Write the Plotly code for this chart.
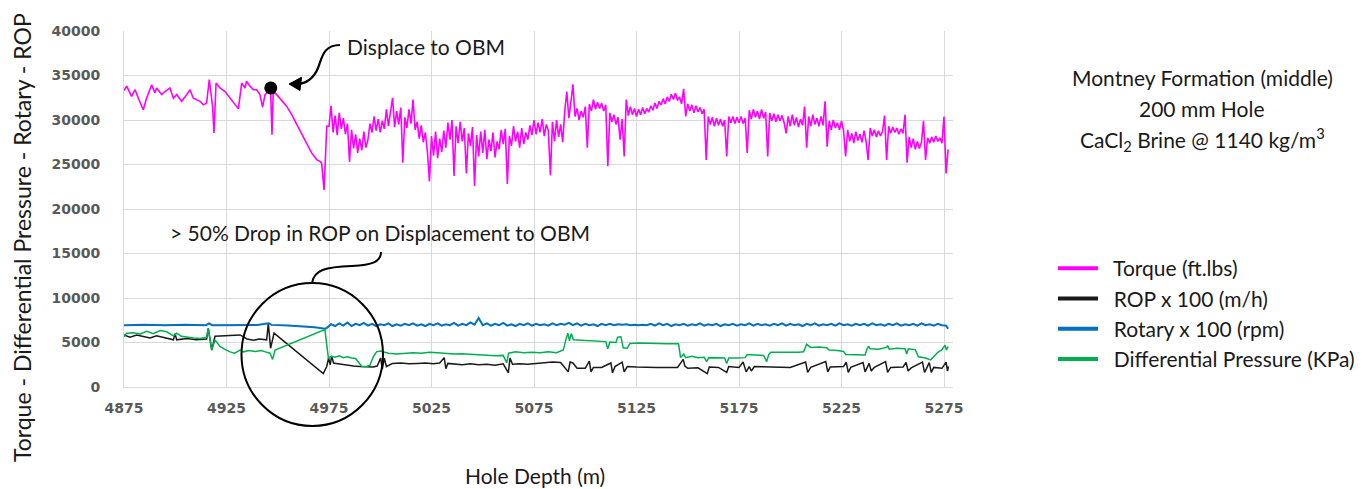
import plotly.graph_objects as go

# ---------------- data ----------------
torque_depth = [
    4875.0, 4876.3, 4878.7, 4880.4, 4882.0, 4884.4, 4886.0, 4888.5, 4890.1, 4890.9,
    4893.4, 4895.0, 4897.4, 4899.1, 4900.7, 4903.1, 4905.6, 4907.2, 4908.8, 4910.4,
    4912.1, 4913.7, 4915.3, 4916.6, 4918.2, 4918.9, 4919.9, 4921.8, 4924.3, 4930.8,
    4932.4, 4934.0, 4934.8, 4936.4, 4938.1, 4939.7, 4941.3, 4942.6, 4943.8, 4945.4,
    4946.5, 4947.2, 4947.8, 4949.5, 4951.1, 4954.3, 4956.8, 4959.2, 4961.7, 4964.1,
    4966.5, 4969.0, 4970.6, 4971.4, 4972.6, 4973.9,
    4975, 4976, 4977, 4978, 4979, 4980, 4981, 4982, 4983, 4984,
    4985, 4986, 4987, 4988, 4989, 4990, 4991, 4992, 4993, 4994,
    4995, 4996, 4997, 4998, 4999, 5000, 5001, 5002, 5003, 5004,
    5005, 5006, 5007, 5008, 5009, 5010, 5011, 5012, 5013, 5014,
    5015, 5016, 5017, 5018, 5019, 5020, 5021, 5022, 5023, 5024,
    5025, 5026, 5027, 5028, 5029, 5030, 5031, 5032, 5033, 5034,
    5035, 5036, 5037, 5038, 5039, 5040, 5041, 5042, 5043, 5044,
    5045, 5046, 5047, 5048, 5049, 5050, 5051, 5052, 5053, 5054,
    5055, 5056, 5057, 5058, 5059, 5060, 5061, 5062, 5063, 5064,
    5065, 5066, 5067, 5068, 5069, 5070, 5071, 5072, 5073, 5074,
    5075, 5076, 5077, 5078, 5079, 5080, 5081, 5082, 5083, 5084,
    5085, 5086, 5087, 5088, 5089, 5090, 5091, 5092, 5093, 5094,
    5095, 5096, 5097, 5098, 5099, 5100, 5101, 5102, 5103, 5104,
    5105, 5106, 5107, 5108, 5109, 5110, 5111, 5112, 5113, 5114,
    5115, 5116, 5117, 5118, 5119, 5120, 5121, 5122, 5123, 5124,
    5125, 5126, 5127, 5128, 5129, 5130, 5131, 5132, 5133, 5134,
    5135, 5136, 5137, 5138, 5139, 5140, 5141, 5142, 5143, 5144,
    5145, 5146, 5147, 5148, 5149, 5150, 5151, 5152, 5153, 5154,
    5155, 5156, 5157, 5158, 5159, 5160, 5161, 5162, 5163, 5164,
    5165, 5166, 5167, 5168, 5169, 5170, 5171, 5172, 5173, 5174,
    5175, 5176, 5177, 5178, 5179, 5180, 5181, 5182, 5183, 5184,
    5185, 5186, 5187, 5188, 5189, 5190, 5191, 5192, 5193, 5194,
    5195, 5196, 5197, 5198, 5199, 5200, 5201, 5202, 5203, 5204,
    5205, 5206, 5207, 5208, 5209, 5210, 5211, 5212, 5213, 5214,
    5215, 5216, 5217, 5218, 5219, 5220, 5221, 5222, 5223, 5224,
    5225, 5226, 5227, 5228, 5229, 5230, 5231, 5232, 5233, 5234,
    5235, 5236, 5237, 5238, 5239, 5240, 5241, 5242, 5243, 5244,
    5245, 5246, 5247, 5248, 5249, 5250, 5251, 5252, 5253, 5254,
    5255, 5256, 5257, 5258, 5259, 5260, 5261, 5262, 5263, 5264,
    5265, 5266, 5267, 5268, 5269, 5270, 5271, 5272, 5273, 5274,
    5275, 5276, 5277,
]
torque = [
    33300, 33800, 32650, 33400, 32450, 31150, 32450, 33950, 33050, 33600,
    32850, 33200, 33600, 32450, 32850, 32100, 32850, 33400, 32450, 32300,
    32100, 31700, 31900, 34550, 31550, 28550, 34150, 33600, 33200, 31250,
    34150, 33600, 34350, 33800, 33400, 33400, 32850, 31450, 32850, 33250,
    33400, 28350, 33250, 32850, 32450, 31550, 30600, 29500, 28350, 27400,
    26300, 25550, 25350, 25150, 22150, 29300,
    29300, 31600, 28600, 30500, 28300, 30800, 29000, 30200, 28400, 29600,
    25300, 28900, 26800, 28400, 26300, 27900, 26600, 28700, 26900, 27800,
    29600, 28600, 30400, 28800, 30100, 28600, 29900, 29000, 31200, 29300,
    30800, 32500, 29200, 31000, 29500, 31400, 25200, 30300, 29100, 31200,
    29600, 32300, 28900, 29800, 27900, 29400, 27500, 28600, 26400, 23100,
    28200, 26000, 28700, 25700, 27900, 26400, 28800, 26900, 29700, 27800,
    30000, 23700, 29300, 27400, 29800, 27600, 29100, 24000, 28500, 27100,
    29200, 22600, 28300, 25900, 28700, 26300, 28900, 25600, 27800, 26500,
    28600, 25800, 27600, 26700, 28900, 27300, 29000, 22800, 28200, 27100,
    29300, 27600, 28700, 26900, 29100, 27300, 28600, 27800, 29400, 28300,
    30000, 28400, 29700, 28600, 30100, 28200, 29500, 28800, 23800, 29800,
    27600, 30000, 28100, 29500, 27500, 31000, 33200, 30200, 32000, 34000,
    30400, 31300, 30000, 31000, 30300, 31500, 26900, 31800, 31000, 32300,
    31200, 32000, 31300, 31900, 31000, 31700, 24800, 30800, 29800, 30600,
    29500, 30300, 27800, 30100, 25900, 32300, 30500, 31500, 30600, 31300,
    30400, 31200, 30600, 31400, 30700, 31300, 30900, 31600, 31100, 31900,
    31300, 32100, 31700, 32400, 31800, 32600, 32100, 32900, 32300, 33000,
    32200, 32600, 31800, 33500, 30400, 31800, 31000, 31700, 30800, 31600,
    30900, 31400, 30700, 31200, 25500, 30400, 29500, 30300, 29300, 30200,
    29400, 30100, 29300, 30000, 25900, 30400, 29700, 30400, 29600, 30300,
    29700, 30400, 29600, 30200, 26300, 31100, 30100, 31200, 30300, 31000,
    30100, 31200, 30200, 30900, 25900, 30800, 29900, 30700, 29800, 30600,
    29900, 30500, 29700, 28500, 30400, 29300, 30600, 29400, 30300, 29200,
    30100, 29400, 31500, 26900, 30400, 29300, 30600, 29500, 30200, 29300,
    30400, 29400, 32100, 27000, 29900, 28900, 30000, 29100, 29700, 28900,
    29900, 28800, 25900, 28900, 27600, 28500, 27400, 28700, 27700, 28400,
    27500, 28800, 27600, 25500, 29100, 28200, 28900, 28100, 28800, 28200,
    28700, 30500, 25500, 29300, 28500, 29200, 28600, 29100, 28400, 29000,
    28500, 30600, 25200, 28100, 26900, 27900, 26700, 27600, 26800, 27500,
    29900, 25500, 28000, 27400, 28100, 27500, 28200, 27600, 28000, 27400,
    30400, 24000, 26700,
]

rop_depth = [
    4875.0, 4877.9, 4881.2, 4884.4, 4887.7, 4890.9, 4894.2, 4899.1, 4899.9, 4900.7,
    4905.6, 4910.4, 4915.3, 4916.1, 4917.8, 4919.4, 4931.6, 4935.0, 4938.1, 4941.0,
    4944.6, 4945.4, 4946.5, 4948.2, 4972.2, 4973.9, 4974.8, 4975.6, 4976.3, 4977.2,
    4978.5, 4981.0, 4984.0, 4987.0, 4990.0, 4993.0, 4996.5, 4998.5, 5000.2, 5001.0,
    5002.0, 5003.0, 5006.0, 5010.0, 5014.0, 5018.0, 5022.0, 5026.0, 5029.0, 5031.2,
    5032.0, 5033.0, 5036.0, 5040.0, 5044.0, 5048.0, 5052.0, 5056.0, 5060.0, 5062.5,
    5063.3, 5064.5, 5068.0, 5072.0, 5076.0, 5080.0, 5084.0, 5088.0, 5091.7, 5092.6,
    5094.0, 5096.0, 5100.0, 5102.0, 5102.8, 5104.0, 5108.0, 5112.5, 5113.3, 5114.5,
    5118.0, 5119.0, 5120.5, 5125.0, 5130.0, 5135.0, 5140.0, 5145.0, 5147.8, 5148.6,
    5150.0, 5155.0, 5159.5, 5160.5, 5165.0, 5169.0, 5170.0, 5175.0, 5177.0, 5178.5,
    5180.0, 5181.0, 5182.5, 5190.0, 5200.0, 5207.5, 5208.5, 5210.0, 5217.3, 5218.3,
    5219.5, 5226.0, 5227.3, 5228.3, 5229.5, 5235.5, 5236.5, 5238.5, 5239.5, 5241.0,
    5246.5, 5247.5, 5249.0, 5255.0, 5256.5, 5257.5, 5259.0, 5264.5, 5265.5, 5266.5,
    5267.8, 5268.8, 5270.0, 5274.0, 5276.0, 5276.7, 5277.2,
]
rop = [
    5850, 5600, 5850, 5700, 5500, 5750, 5550, 5300, 6000, 5300,
    5450, 5300, 5400, 6600, 4150, 5700, 5850, 5400, 5250, 5400,
    5300, 7150, 4350, 6050, 1500, 2300, 3250, 2500, 3500, 2700,
    2650, 2550, 2450, 2350, 2300, 2250, 2250, 2350, 3250, 2000,
    3250, 2300, 2650, 2700, 2600, 2650, 2700, 2600, 2700, 3300,
    2050, 2650, 2600, 2500, 2600, 2500, 2550, 2450, 2600, 1600,
    3250, 2550, 2600, 2550, 2650, 2750, 2800, 2750, 1700, 2800,
    2700, 2100, 2100, 2900, 1700, 2200, 2200, 2700, 1600, 2300,
    2800, 1700, 2300, 2250, 2200, 2200, 2200, 2200, 3100, 2350,
    2100, 2150, 1500, 2250, 2200, 1650, 2300, 2200, 2800, 1700,
    2300, 1800, 2300, 2250, 2200, 2800, 1650, 2200, 2850, 1700,
    2250, 2300, 2800, 1650, 2200, 2750, 1700, 2650, 1800, 2200,
    2850, 1650, 2200, 2250, 2750, 1800, 2150, 2800, 1650, 2100,
    2750, 1650, 2200, 2100, 2800, 1800, 2300,
]

rotary_depth = [
    4875, 4885, 4895, 4905, 4915, 4916.5, 4918, 4930, 4940, 4945.5,
    4947, 4955, 4962, 4968, 4973,
    4974, 4976, 4978, 4980, 4982, 4984, 4986, 4988, 4990, 4992,
    4994, 4996, 4998, 5000, 5002, 5004, 5006, 5008, 5010, 5012,
    5014, 5016, 5018, 5020, 5022, 5024, 5026, 5028, 5030, 5032,
    5034, 5036, 5038, 5040, 5042, 5044, 5046, 5048, 5050, 5052,
    5054, 5056, 5058, 5060, 5062, 5064, 5066, 5068, 5070, 5072,
    5074, 5076, 5078, 5080, 5082, 5084, 5086, 5088, 5090, 5092,
    5094, 5096, 5098, 5100, 5102, 5104, 5106, 5108, 5110, 5112,
    5114, 5116, 5118, 5120, 5122, 5124, 5126, 5128, 5130, 5132,
    5134, 5136, 5138, 5140, 5142, 5144, 5146, 5148, 5150, 5152,
    5154, 5156, 5158, 5160, 5162, 5164, 5166, 5168, 5170, 5172,
    5174, 5176, 5178, 5180, 5182, 5184, 5186, 5188, 5190, 5192,
    5194, 5196, 5198, 5200, 5202, 5204, 5206, 5208, 5210, 5212,
    5214, 5216, 5218, 5220, 5222, 5224, 5226, 5228, 5230, 5232,
    5234, 5236, 5238, 5240, 5242, 5244, 5246, 5248, 5250, 5252,
    5254, 5256, 5258, 5260, 5262, 5264, 5266, 5268, 5270, 5272,
    5274, 5276, 5277,
]
rotary = [
    6950, 7000, 6950, 7000, 6950, 7150, 6950, 7000, 6980, 7150,
    6980, 6900, 6800, 6700, 6550,
    6650, 7050, 6850, 7150, 6900, 7250, 6850, 7100, 6950, 7200,
    6900, 7100, 6850, 7050, 6950, 7150, 6850, 7050, 6900, 7100,
    6950, 7150, 6900, 7050, 6850, 7100, 6950, 7150, 6900, 7050,
    6950, 7200, 6900, 7100, 6950, 7250, 7000, 7750, 6950, 7150,
    6900, 7100, 6950, 7200, 6900, 7050, 6850, 7100, 6950, 7150,
    6900, 7100, 6950, 7050, 6900, 7150, 6950, 7100, 7000, 7200,
    6950, 7150, 6900, 7100, 6950, 7050, 6850, 7100, 6950, 7100,
    6950, 7050, 7000, 7050, 6950, 7000, 6950, 7000, 6950, 7100,
    6900, 7150, 6950, 7100, 6850, 7050, 6950, 7100, 6900, 7050,
    6950, 7150, 6900, 7050, 6950, 7100, 6850, 7050, 6950, 7100,
    6900, 7050, 6950, 7150, 6900, 7100, 6950, 7050, 6900, 7100,
    6950, 7150, 6900, 7100, 6950, 7050, 6850, 7100, 6950, 7150,
    6900, 7050, 6950, 7100, 6900, 7150, 6950, 7050, 6900, 7100,
    6950, 7100, 6900, 7150, 6950, 7050, 6900, 7100, 6950, 7150,
    6900, 7050, 6950, 7100, 6900, 7150, 6950, 7050, 6900, 7100,
    6950, 6900, 6550,
]

dp_depth = [
    4875.0, 4876.3, 4879.6, 4883.0, 4886.0, 4889.3, 4892.6, 4895.8, 4899.1, 4900.7,
    4903.0, 4905.6, 4909.0, 4912.1, 4915.3, 4916.1, 4917.8, 4919.4, 4921.8, 4924.0,
    4926.7, 4929.0, 4931.6, 4933.2, 4936.0, 4939.0, 4942.0, 4944.0, 4946.2, 4947.5,
    4948.7, 4973.0, 4974.7, 4976.0, 4978.0, 4980.0, 4982.0, 4984.0, 4986.0, 4988.0,
    4989.3, 4991.0, 4993.4, 4995.0, 4996.6, 4998.2, 5000.0, 5004.0, 5008.0, 5012.0,
    5016.0, 5020.0, 5024.0, 5028.0, 5032.0, 5036.0, 5040.0, 5044.0, 5048.0, 5052.0,
    5056.0, 5060.0, 5061.7, 5062.6, 5066.0, 5070.0, 5074.0, 5078.0, 5082.0, 5086.0,
    5089.3, 5090.5, 5091.5, 5092.3, 5093.2, 5094.2, 5098.0, 5102.0, 5106.0, 5110.0,
    5111.0, 5112.0, 5115.0, 5115.8, 5117.4, 5118.5, 5120.5, 5121.8, 5126.0, 5130.0,
    5135.0, 5140.0, 5145.5, 5146.5, 5148.0, 5149.0, 5152.0, 5155.0, 5158.0, 5159.2,
    5160.3, 5164.0, 5168.0, 5169.0, 5170.0, 5174.0, 5178.0, 5179.0, 5183.0, 5187.0,
    5188.5, 5189.5, 5190.5, 5195.0, 5200.0, 5204.0, 5206.5, 5207.5, 5208.0, 5210.0,
    5214.0, 5217.8, 5219.0, 5223.0, 5226.0, 5227.0, 5232.0, 5236.5, 5237.5, 5238.2,
    5239.0, 5243.0, 5247.0, 5247.5, 5248.3, 5252.0, 5256.0, 5256.8, 5257.6, 5261.0,
    5262.5, 5266.0, 5268.5, 5270.0, 5272.0, 5274.0, 5275.5, 5276.2, 5277.0,
]
dp = [
    5650, 6050, 6100, 5950, 6250, 6000, 6350, 6200, 5750, 6050,
    5700, 5600, 5500, 5450, 5600, 6600, 4150, 5300, 4550, 4250,
    3950, 3800, 4150, 3950, 4100, 4000, 4100, 3950, 3800, 3100,
    4150, 6450, 3250, 3450, 3350, 3500, 3300, 3400, 3250, 3200,
    2850, 2300, 2300, 2450, 3400, 3950, 4050, 3800, 3700, 3750,
    3850, 3800, 3900, 3850, 3800, 3700, 3750, 3700, 3600, 3550,
    3500, 3550, 2700, 3800, 3950, 3850, 3900, 3850, 3950, 3850,
    4150, 5300, 6050, 5200, 6000, 5300, 5250, 5200, 5150, 5100,
    4300, 5050, 5000, 5600, 5650, 4400, 4350, 4900, 4950, 4900,
    4900, 4850, 4850, 3300, 3700, 3300, 3450, 3300, 3350, 2850,
    3300, 3250, 3250, 2650, 3250, 3250, 3300, 3650, 3600, 3550,
    2850, 3650, 3900, 3900, 3850, 3900, 3950, 4550, 4800, 4450,
    4500, 4400, 4150, 4100, 4000, 3650, 3600, 3600, 4300, 4600,
    4300, 4250, 4450, 4650, 4250, 4350, 4300, 3700, 4300, 4200,
    3400, 3250, 3050, 3400, 3900, 4200, 4700, 4150, 4550,
]

marker_depth = [4946.6]   # "Displace to OBM" point
marker_value = [33600]

series_names = ["Torque (ft.lbs)", "ROP x 100 (m/h)", "Rotary x 100 (rpm)",
                "Differential Pressure (KPa)"]
x_ticks = [4875, 4925, 4975, 5025, 5075, 5125, 5175, 5225, 5275]
y_ticks = [0, 5000, 10000, 15000, 20000, 25000, 30000, 35000, 40000]

# ---------------- styling ----------------
W, H = 1369, 489
ML, MR, MT, MB = 124, 416, 31, 102
PW, PH = W - ML - MR, H - MT - MB
COLORS = ["#FF00FF", "#1A1A1A", "#0070C0", "#00B050"]
WIDTHS = [1.6, 1.5, 2.0, 1.5]
TXT = "Lato"
TXT_COLOR = "#1A1A1A"


def px(xp):
    return (xp - ML) / PW


def py(yp):
    return (H - MB - yp) / PH


def path(cmds):
    out = []
    for c in cmds:
        if isinstance(c, str):
            out.append(c)
        else:
            out.append(f"{px(c[0]):.5f},{py(c[1]):.5f}")
    return " ".join(out)


fig = go.Figure()
data = [(torque_depth, torque), (rop_depth, rop), (rotary_depth, rotary), (dp_depth, dp)]
for (xs, ys), c, w, n in zip(data, COLORS, WIDTHS, series_names):
    fig.add_trace(go.Scatter(x=xs, y=ys, mode="lines", line=dict(color=c, width=w),
                             name=n, showlegend=False, hoverinfo="skip"))

# legend entries (thicker swatches as in the reference)
for i, (c, n) in enumerate(zip(COLORS, series_names)):
    fig.add_trace(go.Scatter(x=[None], y=[None], mode="lines",
                             line=dict(color=c, width=4),
                             name="\u00a0\u00a0" + n, legendgroup=f"g{i}",
                             showlegend=True))

fig.add_trace(go.Scatter(x=marker_depth, y=marker_value, mode="markers",
                         marker=dict(color="black", size=13), showlegend=False,
                         hoverinfo="skip"))

x_range = [4875, 4875 + PW / 2.05]

fig.update_layout(
    width=W, height=H,
    margin=dict(l=ML, r=MR, t=MT, b=MB, pad=0),
    paper_bgcolor="white", plot_bgcolor="white",
    font=dict(family=TXT, color=TXT_COLOR),
    showlegend=True,
    legend=dict(xref="container", yref="container",
                x=1053 / W, y=1 - 248 / H, xanchor="left", yanchor="top",
                font=dict(family=TXT, size=21, color=TXT_COLOR),
                tracegroupgap=0, bgcolor="rgba(0,0,0,0)", itemwidth=40),
    xaxis=dict(range=x_range, tickvals=x_ticks, ticktext=[str(t) for t in x_ticks],
               showgrid=True, gridcolor="#D9D9D9", gridwidth=1,
               showline=True, linecolor="#D9D9D9", linewidth=1, zeroline=False,
               ticks="", ticklabelstandoff=8,
               tickfont=dict(family="DejaVu Sans", size=14, color="#595959", weight="bold")),
    yaxis=dict(range=[0, 40000], tickvals=y_ticks, ticktext=[str(t) for t in y_ticks],
               showgrid=True, gridcolor="#D9D9D9", gridwidth=1,
               showline=True, linecolor="#D9D9D9", linewidth=1, zeroline=False,
               ticks="", ticklabelstandoff=20,
               tickfont=dict(family="DejaVu Sans", size=14, color="#595959", weight="bold")),
)

ann_font = dict(family=TXT, size=21, color=TXT_COLOR)


def label(text, xp, yp, size=21, **kw):
    f = dict(ann_font, size=size)
    fig.add_annotation(text=text, x=px(xp), y=py(yp), xref="paper", yref="paper",
                       showarrow=False, xanchor="center", yanchor="middle",
                       font=f, **kw)


label("Torque - Differential Pressure - Rotary - ROP", 22, 238, size=23, textangle=-90)
label("Hole Depth (m)", 535, 475)
label("Displace to OBM", 426, 46)
label("> 50% Drop in ROP on Displacement to OBM", 380, 233)
label("Montney Formation (middle)", 1202, 77)
label("200 mm Hole", 1202, 108)
label("CaCl<sub>2</sub> Brine @ 1140 kg/m<sup>3</sup>", 1202, 139)

# curved arrow to the point
fig.add_shape(type="path", xref="paper", yref="paper",
              path=path(["M", (340, 45), "C", (323, 45), (322, 58), (318, 68),
                         "C", (314, 78), (306, 84), (297, 84)]),
              line=dict(color="black", width=2.2))
fig.add_shape(type="path", xref="paper", yref="paper",
              path=path(["M", (289, 84), "L", (301.5, 77.3), "L", (300, 90.5), "Z"]),
              line=dict(color="black", width=1), fillcolor="black")
# callout circle + connector
fig.add_shape(type="circle", xref="paper", yref="paper",
              x0=px(241.5), x1=px(383), y0=py(426), y1=py(283),
              line=dict(color="black", width=2))
fig.add_shape(type="path", xref="paper", yref="paper",
              path=path(["M", (381, 252), "C", (381, 262), (372, 265), (352, 266),
                         "C", (325, 267), (314, 270), (312, 283)]),
              line=dict(color="black", width=2))

fig.write_html("out.html", config={"displayModeBar": False})
